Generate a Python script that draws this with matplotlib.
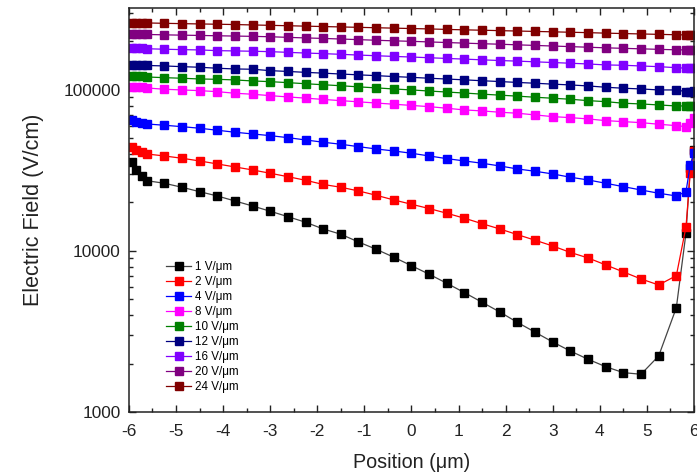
import matplotlib
matplotlib.use("Agg")
import matplotlib.pyplot as plt
from matplotlib.ticker import FixedLocator, LogLocator, NullFormatter, MultipleLocator

plt.rcParams['font.family'] = ['Liberation Sans', 'DejaVu Sans']

# Mesh positions (µm), refined near both contacts
position = [-5.94, -5.84, -5.73,
            -5.625, -5.25, -4.875, -4.5, -4.125, -3.75, -3.375, -3.0, -2.625, -2.25,
            -1.875, -1.5, -1.125, -0.75, -0.375, 0.0, 0.375, 0.75, 1.125, 1.5, 1.875,
            2.25, 2.625, 3.0, 3.375, 3.75, 4.125, 4.5, 4.875, 5.25, 5.625,
            5.83, 5.92, 6.0]

# Electric field (V/cm) for each applied bias
field_1 = [35720, 31850, 29230,
           27330, 26330, 24870, 23350, 21960, 20440, 19030, 17650, 16330, 15080,
           13700, 12700, 11370, 10250, 9140, 8100, 7170, 6300, 5510, 4800, 4180,
           3600, 3130, 2720, 2390, 2125, 1911, 1755, 1715, 2228, 4445,
           12940, 32770, 42400]
field_2 = [44450, 42400, 41020,
           40040, 38910, 37650, 36230, 34710, 33250, 31850, 30380, 28930, 27490,
           25880, 24870, 23590, 22180, 20740, 19500, 18340, 17150, 15970, 14770, 13700,
           12630, 11660, 10740, 9790, 9050, 8190, 7410, 6700, 6150, 7025,
           14100, 30510, 42000]
field_4 = [65120, 63560, 62660,
           61490, 60360, 59160, 57830, 56200, 54620, 53300, 52020, 50550, 48920,
           47340, 45990, 44440, 43000, 41790, 40440, 38910, 37440, 36230, 35050, 33730,
           32310, 31260, 30080, 28700, 27610, 26330, 25080, 23920, 22830, 21960,
           23350, 34210, 40440]
field_8 = [104380, 104380, 103600,
           102900, 101000, 100000, 99010, 97590, 95390, 94040, 92180, 90480, 88950,
           87310, 85820, 84370, 82930, 81530, 80130, 78770, 76980, 75140, 74080, 72710,
           71680, 69960, 68280, 67300, 66070, 64480, 63560, 62660, 61230, 60020,
           59160, 62130, 67000]
field_10 = [122200, 122200, 121300,
            120400, 119200, 118200, 117000, 116400, 115400, 113700, 112600, 111000, 109300,
            107700, 106200, 104500, 103000, 101400, 100000, 98450, 97050, 95660, 94170, 92840,
            91520, 90090, 88800, 87550, 85820, 84600, 82690, 81850, 80690, 79540,
            79540, 79540, 80000]
field_12 = [142960, 142960, 142400,
            141940, 140940, 139530, 138340, 136380, 135010, 134440, 131780, 130280, 128610,
            127140, 125540, 124100, 122690, 121120, 119750, 118220, 116870, 115530, 114060, 112770,
            111330, 110070, 108640, 107430, 105880, 103940, 102470, 101440, 100000, 100000,
            97590, 97590, 98000]
field_16 = [181600, 181600, 181000,
            180300, 179000, 178000, 177200, 175400, 174700, 173900, 172900, 171200, 169500,
            168100, 166400, 164700, 163100, 161500, 160100, 158500, 156900, 155400, 153800, 152300,
            151000, 149500, 148000, 146500, 145000, 143000, 142300, 140900, 139500, 137500,
            136400, 136400, 136400]
field_20 = [222700, 222700, 221900,
            221100, 219900, 218900, 218000, 217000, 216100, 215200, 214000, 212100, 210400,
            208900, 207100, 205300, 203500, 201800, 200400, 198700, 197000, 195300, 193700, 192300,
            190600, 189000, 187400, 185800, 184200, 182600, 181300, 180000, 178700, 177500,
            177200, 177200, 177200]
field_24 = [261800, 261800, 261200,
            260700, 259300, 258100, 257000, 255900, 254800, 253300, 251900, 250500, 249000,
            247600, 246200, 244800, 243400, 242000, 240600, 239300, 237600, 236200, 234900, 233500,
            232200, 230900, 229600, 228200, 226900, 225300, 224000, 222700, 221400, 220200,
            219600, 219600, 219600]

series = [field_1, field_2, field_4, field_8, field_10, field_12, field_16, field_20, field_24]
labels = ["1 V/\u03bcm", "2 V/\u03bcm", "4 V/\u03bcm", "8 V/\u03bcm", "10 V/\u03bcm",
          "12 V/\u03bcm", "16 V/\u03bcm", "20 V/\u03bcm", "24 V/\u03bcm"]
colors = ["#000000", "#FF0000", "#0000FF", "#FF00FF", "#008000",
          "#000080", "#8000FF", "#800080", "#800000"]

fig = plt.figure(figsize=(6.97, 4.76), dpi=100)
ax = fig.add_axes([0.185, 0.1345, 0.8107, 0.8497])

for y, lab, c in zip(series, labels, colors):
    line_c = "#444444" if c == "#000000" else c
    ax.plot(position, y, color=line_c, lw=0.9, marker='s', markersize=5.4,
            markerfacecolor=c, markeredgecolor=c, label=lab)

ax.set_yscale('log')
ax.set_xlim(-6, 6)
ax.set_ylim(1000, 325000)

ax.xaxis.set_major_locator(MultipleLocator(1))
ax.xaxis.set_minor_locator(MultipleLocator(0.5))
ax.set_xticks(range(-6, 7))
ax.set_xticklabels([str(v) for v in range(-6, 7)])

ax.yaxis.set_major_locator(FixedLocator([1000, 10000, 100000]))
ax.set_yticklabels(["1000", "10000", "100000"])
ax.yaxis.set_minor_locator(LogLocator(base=10, subs=range(2, 10)))
ax.yaxis.set_minor_formatter(NullFormatter())

ax.tick_params(which='both', direction='in', top=True, right=True, labelsize=12.4,
               width=1, colors='#222222', labelcolor='#222222')
ax.tick_params(which='major', length=5)
ax.tick_params(axis='y', which='major', pad=6)
ax.tick_params(axis='x', which='major', pad=9)
ax.tick_params(which='minor', length=3)
for s in ax.spines.values():
    s.set_linewidth(1.1)
    s.set_color('#222222')

ax.set_xlabel("Position (\u03bcm)", fontsize=14.2, color='#222222', labelpad=10)
ax.set_ylabel("Electric Field (V/cm)", fontsize=15.5, color='#222222', labelpad=14)

leg = ax.legend(loc='upper left', bbox_to_anchor=(0.058, 0.385), frameon=False,
                fontsize=8.4, handlelength=2.1, handletextpad=0.35, labelspacing=0.26,
                markerscale=1.0, borderaxespad=0)

fig.savefig("out.png", dpi=100)
